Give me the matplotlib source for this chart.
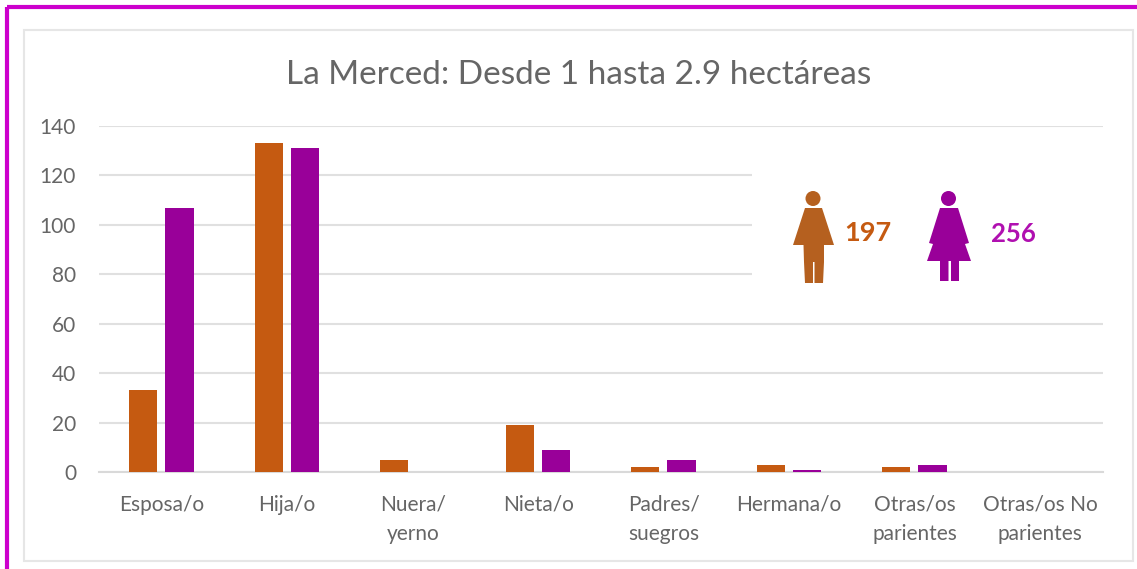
import matplotlib
matplotlib.use("Agg")
import matplotlib.pyplot as plt
from matplotlib.patches import Circle, Polygon, Rectangle

plt.rcParams["font.family"] = ["Lato", "DejaVu Sans"]

W, H = 1137, 569

categories = ["Esposa/o", "Hija/o", "Nuera/\nyerno", "Nieta/o", "Padres/\nsuegros",
              "Hermana/o", "Otras/os\nparientes", "Otras/os No\nparientes"]
hombres = [33, 133, 5, 19, 2, 3, 2, 0]
mujeres = [107, 131, 0, 9, 5, 1, 3, 0]
yticks = [0, 20, 40, 60, 80, 100, 120, 140]
title = "La Merced: Desde 1 hasta 2.9 hectáreas"
total_hombres = "197"
total_mujeres = "256"

ORANGE = "#C55A11"
PURPLE = "#990099"
GREY = "#666666"

fig = plt.figure(figsize=(W / 100, H / 100), dpi=100, facecolor="white")

# overlay in pixel coords, y going down
bg = fig.add_axes([0, 0, 1, 1], zorder=0)
bg.set_xlim(0, W)
bg.set_ylim(H, 0)
bg.axis("off")
bg.add_patch(Rectangle((24, 30), 1109, 531, fc="white", ec="#E6E6E6", lw=1.5))
bg.add_patch(Rectangle((6.5, 6.5), W, H, fc="none", ec="#CC00CC", lw=3))

ax = fig.add_axes([99 / W, 1 - 472 / H, (1103 - 99) / W, (472 - 126) / H], zorder=1)
ax.patch.set_alpha(0)
x = list(range(len(categories)))
ax.bar([i - 0.147 for i in x], hombres, width=0.225, color=ORANGE, zorder=3)
ax.bar([i + 0.141 for i in x], mujeres, width=0.225, color=PURPLE, zorder=3)
ax.set_xlim(-0.5, 7.5)
ax.set_ylim(0, 140)
ax.set_yticks(yticks)
ax.set_xticks(x)
ax.set_xticklabels(categories, fontsize=15, color=GREY, linespacing=1.55)
ax.tick_params(axis="both", length=0, colors=GREY, labelsize=15)
ax.tick_params(axis="x", pad=16.5)
ax.tick_params(axis="y", pad=16.5)
ax.grid(axis="y", color="#E0E0E0", lw=1.5, zorder=1)
ax.set_axisbelow(True)
for s in ["top", "right", "left"]:
    ax.spines[s].set_visible(False)
ax.spines["bottom"].set_color("#D9D9D9")
ax.spines["bottom"].set_linewidth(1.5)

# top layer: white box hiding the gridlines, icons, title
top = fig.add_axes([0, 0, 1, 1], zorder=2)
top.set_xlim(0, W)
top.set_ylim(H, 0)
top.axis("off")
top.patch.set_alpha(0)
top.add_patch(Rectangle((752, 150), 352, 150, fc="white", ec="none"))

top.text(578.5, 75, title, fontsize=24, color=GREY, ha="center", va="center")

# man icon
man = "#B5601F"
top.add_patch(Circle((813, 198.5), 7.5, fc=man, ec="none"))
top.add_patch(Polygon([(805, 208), (822, 208), (834, 245), (824, 245), (824, 262), (823, 283),
                       (814.5, 283), (814.5, 262), (813, 262), (813, 283), (805, 283), (804, 262),
                       (803.5, 245), (793, 245)], fc=man, ec="none"))
top.text(844, 233, total_hombres, fontsize=19.5, fontweight="bold", color=ORANGE, ha="left", va="center")

# woman icon
top.add_patch(Circle((948.5, 198.5), 7.5, fc=PURPLE, ec="none"))
top.add_patch(Polygon([(940, 208), (958, 208), (969, 243), (965, 244), (971, 261), (959, 261),
                       (959, 281), (951, 281), (951, 261), (948.5, 261), (948.5, 281), (940, 281),
                       (940, 261), (927, 261), (933, 244), (929, 243)], fc=PURPLE, ec="none"))
top.text(991, 234, total_mujeres, fontsize=18.5, fontweight="bold", color="#B010B0", ha="left", va="center")

fig.savefig("out.png", dpi=100)
